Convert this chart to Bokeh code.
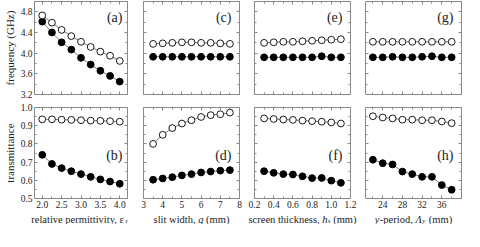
from bokeh.plotting import figure
from bokeh.models import Range1d, FixedTicker, LinearAxis, Label, CustomJSTickFormatter, PrintfTickFormatter
from bokeh.layouts import column, row
from bokeh.embed import file_html
from bokeh.resources import INLINE

# ---------------- data ----------------
eps_r = [2.0, 2.25, 2.5, 2.75, 3.0, 3.25, 3.5, 3.75, 4.0]
slit_g = [3.5, 4.0, 4.5, 5.0, 5.5, 6.0, 6.5, 7.0, 7.5]
thick_hs = [0.3, 0.4, 0.5, 0.6, 0.7, 0.8, 0.9, 1.0, 1.1]
period_y = [22, 24, 26, 28, 30, 32, 34, 36, 38]

freq_a_open = [4.73, 4.59, 4.45, 4.33, 4.22, 4.12, 4.03, 3.95, 3.85]
freq_a_fill = [4.61, 4.40, 4.21, 4.07, 3.91, 3.78, 3.66, 3.56, 3.45]
trans_b_open = [0.935, 0.935, 0.933, 0.932, 0.930, 0.928, 0.927, 0.925, 0.922]
trans_b_fill = [0.740, 0.690, 0.667, 0.650, 0.634, 0.619, 0.605, 0.593, 0.581]
freq_c_open = [4.18, 4.19, 4.20, 4.21, 4.21, 4.20, 4.20, 4.19, 4.18]
freq_c_fill = [3.93, 3.93, 3.93, 3.93, 3.93, 3.93, 3.93, 3.93, 3.93]
trans_d_open = [0.800, 0.850, 0.887, 0.912, 0.930, 0.948, 0.958, 0.963, 0.972]
trans_d_fill = [0.603, 0.610, 0.617, 0.627, 0.634, 0.643, 0.648, 0.653, 0.656]
freq_e_open = [4.20, 4.21, 4.22, 4.22, 4.23, 4.24, 4.25, 4.26, 4.27]
freq_e_fill = [3.92, 3.92, 3.92, 3.92, 3.92, 3.92, 3.94, 3.92, 3.92]
trans_f_open = [0.940, 0.937, 0.934, 0.932, 0.928, 0.925, 0.922, 0.918, 0.912]
trans_f_fill = [0.650, 0.641, 0.634, 0.632, 0.622, 0.612, 0.613, 0.598, 0.586]
freq_g_open = [4.22, 4.22, 4.22, 4.22, 4.22, 4.22, 4.22, 4.22, 4.22]
freq_g_fill = [3.92, 3.92, 3.93, 3.92, 3.92, 3.93, 3.94, 3.92, 3.92]
trans_h_open = [0.952, 0.945, 0.940, 0.933, 0.933, 0.930, 0.930, 0.923, 0.914]
trans_h_fill = [0.713, 0.694, 0.687, 0.648, 0.634, 0.619, 0.619, 0.574, 0.548]

freq_ticks = [3.2, 3.6, 4.0, 4.4, 4.8]
trans_ticks = [0.5, 0.6, 0.7, 0.8, 0.9, 1.0]
eps_ticks = [2.0, 2.5, 3.0, 3.5, 4.0]
g_ticks = [3, 4, 5, 6, 7, 8]
hs_ticks = [0.2, 0.4, 0.6, 0.8, 1.0, 1.2]
py_ticks = [24, 28, 32, 36]

# ---------------- styling helpers ----------------
SERIF = "Liberation Serif"
FRAME = "#8a8a8a"
INK = "#222222"

REG = {' ': .25, ',': .25, '(': .333, ')': .333, '-': .333, '.': .25, 'a': .444, 'c': .444,
       'd': .5, 'e': .444, 'h': .5, 'i': .278, 'k': .5, 'l': .278, 'm': .778, 'n': .5,
       'o': .5, 'p': .5, 'r': .333, 's': .389, 't': .278, 'v': .5, 'w': .722, 'y': .5,
       'ε': .44, 'Λ': .72}
ITAL = {'g': .5, 'h': .5, 'y': .444, 's': .389, 'Λ': .61, 'r': .389}


def twidth(text, size, italic):
    tab = ITAL if italic else REG
    return sum(tab.get(ch, REG.get(ch, .5)) for ch in text) * size


def style_axis(ax, ticks, minor, show_labels, fmt=None):
    ax.ticker = FixedTicker(ticks=ticks, minor_ticks=minor)
    ax.axis_line_color = None
    ax.major_tick_line_color = FRAME
    ax.minor_tick_line_color = FRAME
    ax.major_tick_in = 3
    ax.major_tick_out = 0
    ax.minor_tick_in = 2
    ax.minor_tick_out = 0
    if show_labels:
        ax.major_label_text_font = SERIF
        ax.major_label_text_font_size = "9.5px"
        ax.major_label_text_color = INK
        ax.major_label_standoff = 2
        if fmt:
            ax.formatter = PrintfTickFormatter(format=fmt)
    else:
        ax.formatter = CustomJSTickFormatter(code="return ''")
        ax.major_label_text_font_size = "0px"
        ax.major_label_standoff = 0


def panel(xr, xt, xm, xfmt, yr, yt, ym, yfmt, fw, fh, bl, br, bt, bb,
          show_x, show_y, ylabel=None):
    p = figure(width=bl + fw + br, height=bt + fh + bb,
               x_range=Range1d(*xr), y_range=Range1d(*yr),
               output_backend="svg", toolbar_location=None,
               min_border_left=bl, min_border_right=br,
               min_border_top=bt, min_border_bottom=bb)
    p.grid.visible = False
    p.outline_line_color = FRAME
    p.outline_line_width = 1
    p.background_fill_color = "white"
    p.border_fill_color = "white"
    style_axis(p.xaxis[0], xt, xm, show_x, xfmt)
    style_axis(p.yaxis[0], yt, ym, show_y, yfmt)
    top = LinearAxis()
    right = LinearAxis()
    p.add_layout(top, "above")
    p.add_layout(right, "right")
    style_axis(top, xt, xm, False)
    style_axis(right, yt, ym, False)
    if ylabel:
        p.yaxis[0].axis_label = ylabel
        p.yaxis[0].axis_label_text_font = SERIF
        p.yaxis[0].axis_label_text_font_size = "11px"
        p.yaxis[0].axis_label_text_font_style = "normal"
        p.yaxis[0].axis_label_text_color = INK
        p.yaxis[0].axis_label_standoff = 2
    return p


def series(p, x, y_open, y_fill):
    p.line(x, y_open, line_color="#555555", line_width=0.8)
    p.line(x, y_fill, line_color="#555555", line_width=0.8)
    p.scatter(x, y_fill, size=6.8, marker="circle", fill_color="black", line_color="black")
    p.scatter(x, y_open, size=6.8, marker="circle", fill_color="white", line_color="black",
              line_width=0.9)


def tag(p, text, fw, fh, dy):
    p.add_layout(Label(x=fw - 8, y=fh - dy, x_units="screen", y_units="screen", text=text,
                       text_align="right", text_baseline="middle", text_font=SERIF,
                       text_font_size="14px", text_color=INK))


def label_strip(segs, bl, fw, br, h, base):
    # a frame-only strip that carries the composite x-axis title
    s = figure(width=bl + fw + br, height=h, x_range=Range1d(0, 1), y_range=Range1d(0, 1),
               output_backend="svg", toolbar_location=None,
               min_border_left=0, min_border_right=0, min_border_top=0, min_border_bottom=0,
               x_axis_location=None, y_axis_location=None)
    s.grid.visible = False
    s.outline_line_color = None
    s.background_fill_color = "white"
    s.border_fill_color = "white"
    total = sum(twidth(t, sz, it) + gap for t, sz, it, dy, gap in segs)
    x = bl + fw / 2 - total / 2
    for t, sz, it, dy, gap in segs:
        s.add_layout(Label(x=x, y=base + dy, x_units="screen", y_units="screen", text=t,
                           text_align="left", text_baseline="alphabetic", text_font=SERIF,
                           text_font_size=f"{sz}px",
                           text_font_style="italic" if it else "normal", text_color=INK))
        x += twidth(t, sz, it) + gap
    return s


FW = 96
FH1, FH2 = 93, 92
# borders: (left, right) per column
cols = [(31, 8), (8, 7), (8, 7), (8, 3)]
T1, B1 = 1, 6
T2, B2 = 7, 11
LH = 14

xspecs = [
    ((1.8, 4.2), eps_ticks, [2.25, 2.75, 3.25, 3.75], "%.1f"),
    ((3, 8), g_ticks, [3.5, 4.5, 5.5, 6.5, 7.5], "%d"),
    ((0.2, 1.2), hs_ticks, [0.3, 0.5, 0.7, 0.9, 1.1], "%.1f"),
    ((20.5, 40.0), py_ticks, [22, 26, 30, 34, 38], "%d"),
]
xs = [eps_r, slit_g, thick_hs, period_y]
tops = [(freq_a_open, freq_a_fill, "(a)"), (freq_c_open, freq_c_fill, "(c)"),
        (freq_e_open, freq_e_fill, "(e)"), (freq_g_open, freq_g_fill, "(g)")]
bots = [(trans_b_open, trans_b_fill, "(b)"), (trans_d_open, trans_d_fill, "(d)"),
        (trans_f_open, trans_f_fill, "(f)"), (trans_h_open, trans_h_fill, "(h)")]

FS = 10.5
SS = 7
xlabels = [
    [("relative permittivity, ε", FS, False, 0, 0.6), ("r", SS, False, -1, 0)],
    [("slit width,", FS, False, 0, 2.6), ("g", FS, True, 0, 2.6), ("(mm)", FS, False, 0, 0)],
    [("screen thickness,", FS, False, 0, 2.6), ("h", FS, True, 0, 0.4), ("s", SS, True, -1, 2.6),
     ("(mm)", FS, False, 0, 0)],
    [("y", FS, True, 0, 0.3), ("-period,", FS, False, 0, 2.6), ("Λ", FS, True, 0, 0.4),
     ("y", SS, True, -1, 3.5), ("(mm)", FS, False, 0, 0)],
]

top_row, bot_row, lab_row = [], [], []
for i in range(4):
    bl, br = cols[i]
    xr, xt, xm, xf = xspecs[i]
    p1 = panel(xr, xt, xm, xf, (3.2, 5.0), freq_ticks, [3.4, 3.8, 4.2, 4.6, 5.0], "%.1f",
               FW, FH1, bl, br, T1, B1, False, i == 0,
               "frequency (GHz)" if i == 0 else None)
    series(p1, xs[i], tops[i][0], tops[i][1])
    tag(p1, tops[i][2], FW, FH1, 16)
    p2 = panel(xr, xt, xm, xf, (0.5, 1.0), trans_ticks, [0.55, 0.65, 0.75, 0.85, 0.95], "%.1f",
               FW, FH2, bl, br, T2, B2, True, i == 0,
               "transmittance" if i == 0 else None)
    series(p2, xs[i], bots[i][0], bots[i][1])
    tag(p2, bots[i][2], FW, FH2, 49)
    top_row.append(p1)
    bot_row.append(p2)
    lab_row.append(label_strip(xlabels[i], bl, FW, br, LH, 5))

layout = column(row(*top_row, spacing=0), row(*bot_row, spacing=0), row(*lab_row, spacing=0),
                spacing=0)

open("out.html", "w").write(file_html(layout, INLINE))
